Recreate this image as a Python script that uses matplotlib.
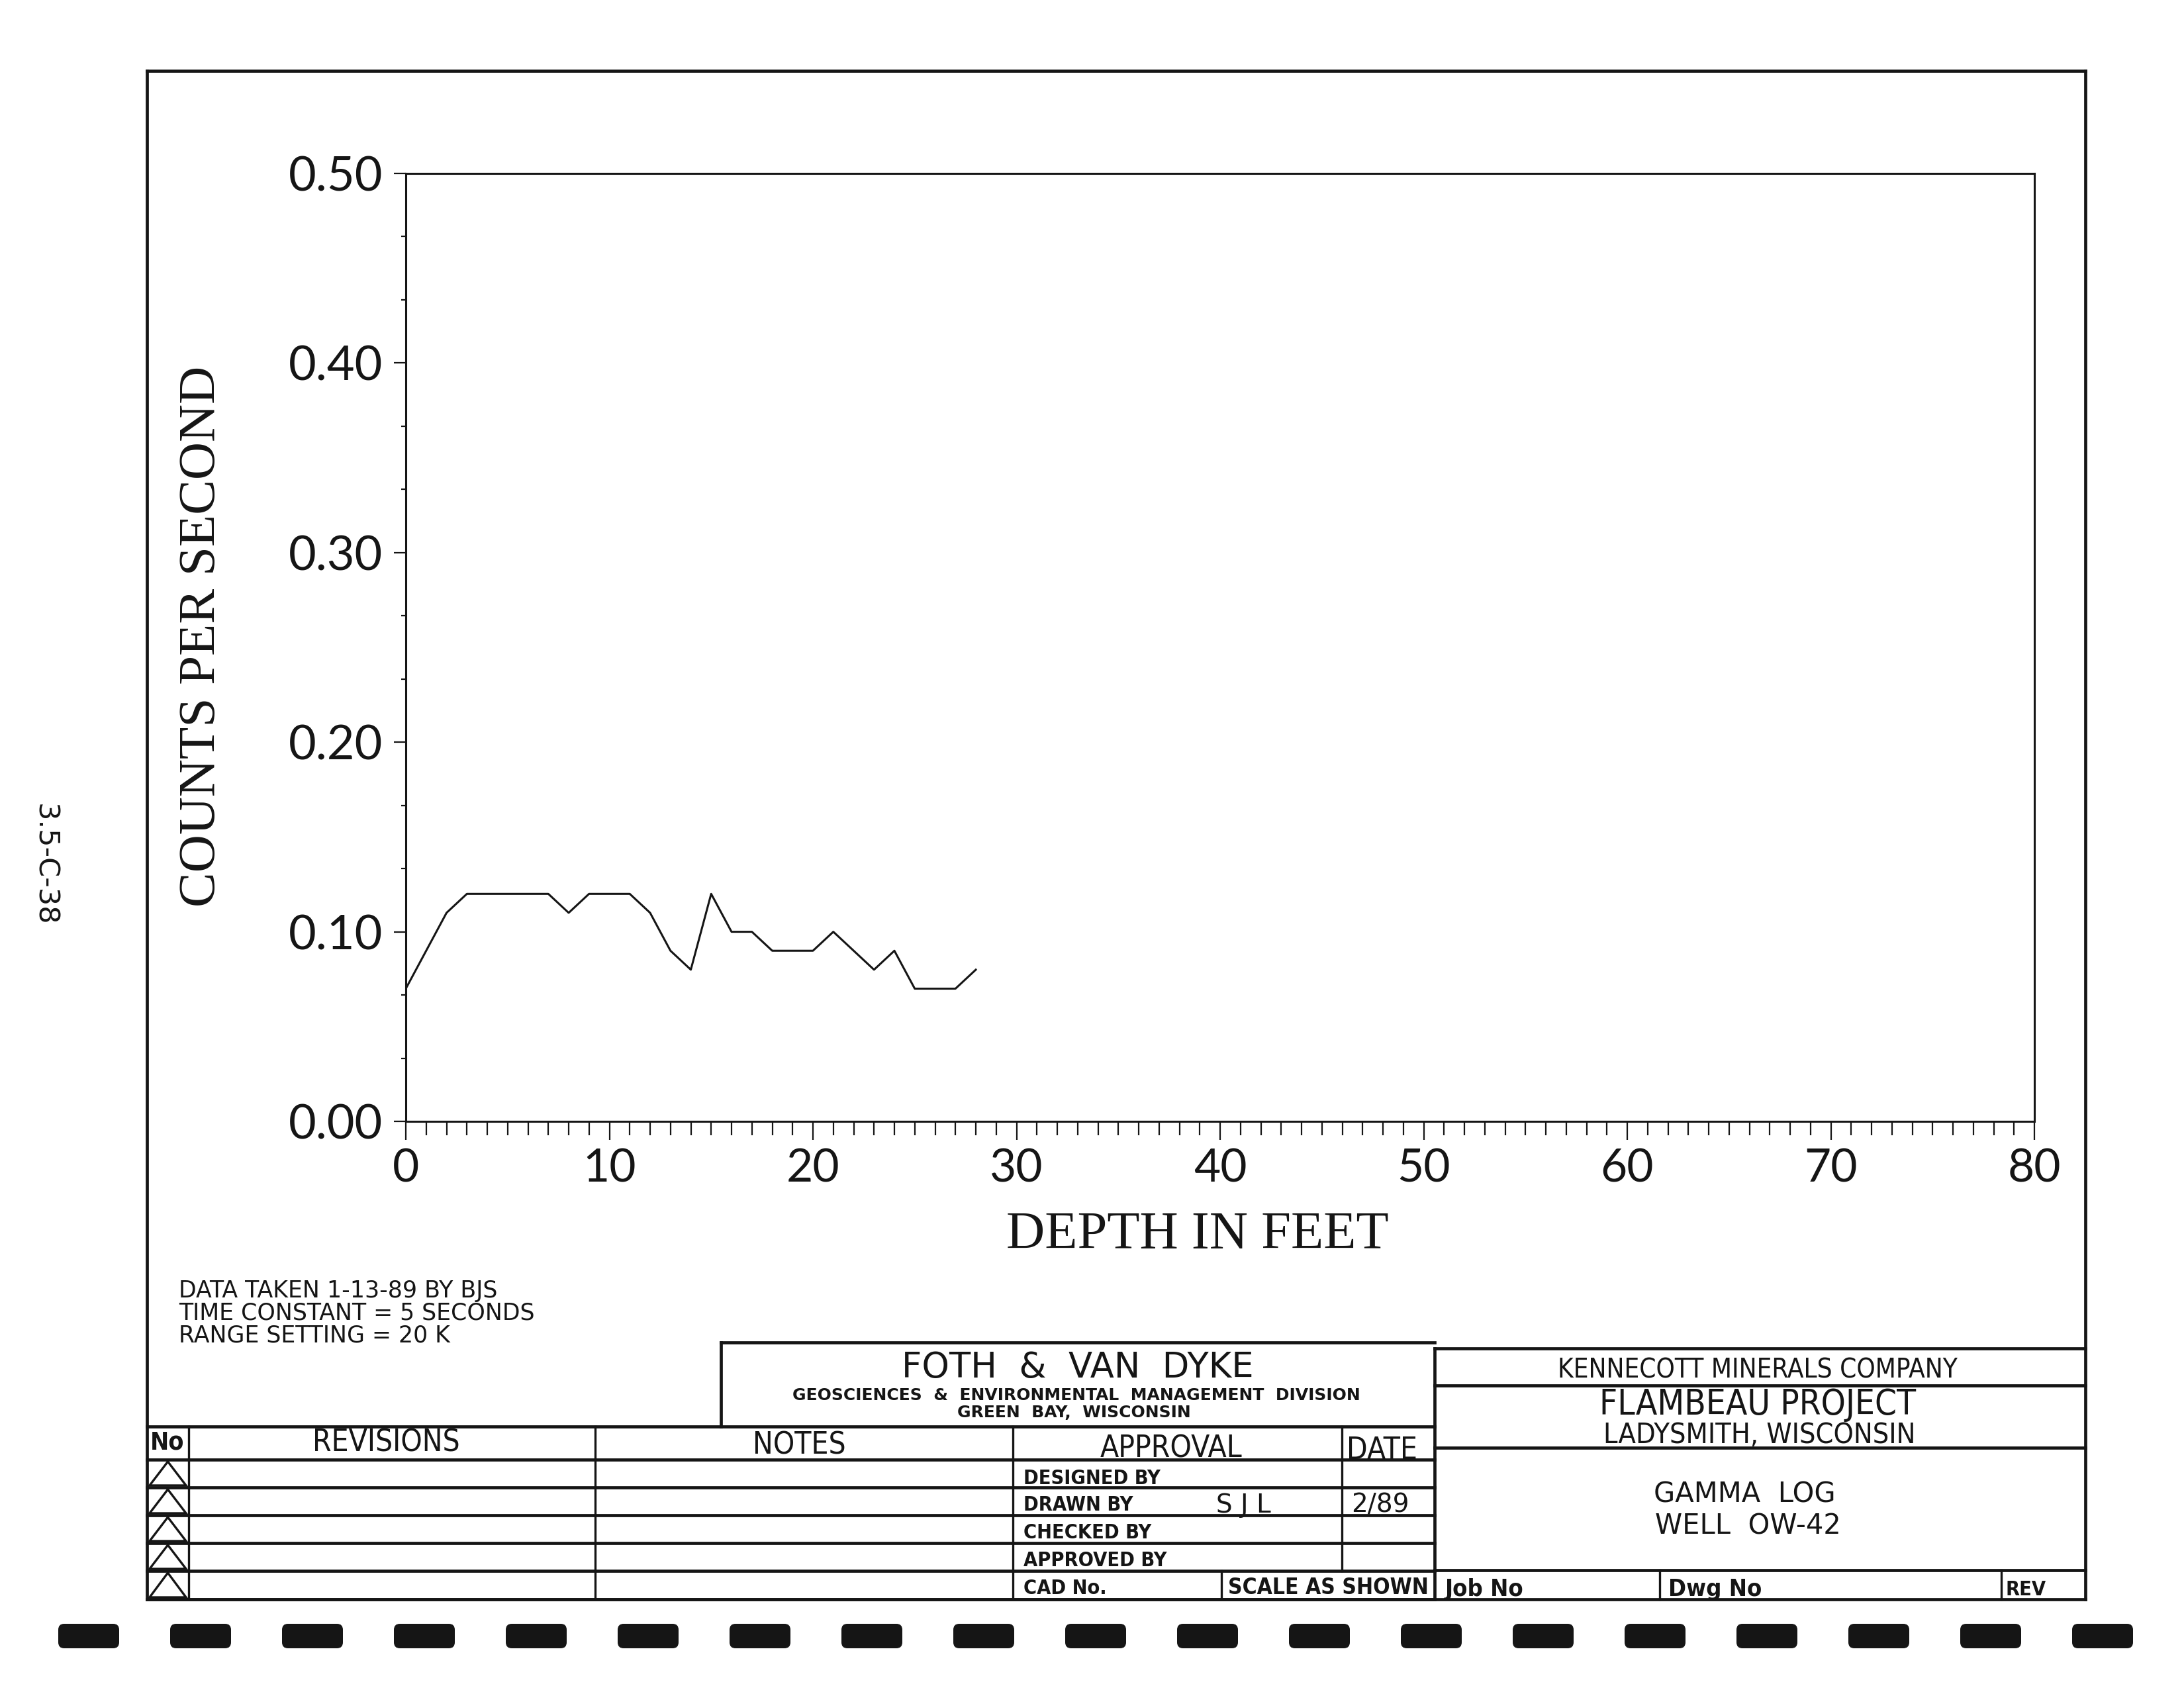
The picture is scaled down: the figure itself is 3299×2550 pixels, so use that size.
import numpy as np
import matplotlib.pyplot as plt
from matplotlib.patches import Polygon, FancyBboxPatch

# gamma log readings, well OW-42 (depth in feet, counts per second)
depth_ft = [0, 1, 2, 3, 4, 5, 6, 7, 8, 9, 10, 11, 12, 13, 14,
            15, 16, 17, 18, 19, 20, 21, 22, 23, 24, 25, 26, 27, 28]
counts = [0.07, 0.09, 0.11, 0.12, 0.12, 0.12, 0.12, 0.12, 0.11, 0.12,
          0.12, 0.12, 0.11, 0.09, 0.08, 0.12, 0.10, 0.10, 0.09, 0.09,
          0.09, 0.10, 0.09, 0.08, 0.09, 0.07, 0.07, 0.07, 0.08]

x_ticks = [0, 10, 20, 30, 40, 50, 60, 70, 80]
y_ticks = [0.0, 0.1, 0.2, 0.3, 0.4, 0.5]
y_tick_labels = ['0.00', '0.10', '0.20', '0.30', '0.40', '0.50']

notes = ['DATA TAKEN 1-13-89 BY BJS',
         'TIME CONSTANT = 5 SECONDS',
         'RANGE SETTING = 20 K']
approval_rows = ['DESIGNED BY', 'DRAWN BY', 'CHECKED BY', 'APPROVED BY', 'CAD No.']

ink = '#151515'
W, H = 3299, 2550

fig = plt.figure(figsize=(W / 100, H / 100), dpi=100)
fig.patch.set_facecolor('white')

# drawing sheet overlay in pixel coordinates
frame = fig.add_axes([0, 0, 1, 1])
frame.set_xlim(0, W)
frame.set_ylim(H, 0)
frame.axis('off')


def rule(x0, y0, x1, y1, lw=3.4):
    frame.plot([x0, x1], [y0, y1], color=ink, lw=lw, solid_capstyle='projecting')


def label(x, y, s, size, ha='center', weight='normal', stretch='normal', **kw):
    frame.text(x, y, s, fontsize=size, ha=ha, va='center', color=ink,
               family='DejaVu Sans', fontweight=weight, fontstretch=stretch, **kw)


# sheet border and title block geometry
L, R, TOP, BOT = 222, 3150, 107, 2416
MID = 2167
FOTH_L, FOTH_T = 1089, 2028
TAB_T = 2155
rows_y = [2205, 2247, 2289, 2331, 2373, BOT]
NO_R, REV_R, NOTES_R, APPR_R, SCALE_L = 285, 899, 1530, 2027, 1845
rb_rows = [2037, 2093, 2187, 2372]
JOB_R, DWG_R = 2507, 3023

rule(L, TOP, R, TOP)
rule(L, TOP, L, BOT)
rule(R, TOP, R, BOT)
rule(L, BOT, R, BOT)

rule(L, TAB_T, MID, TAB_T)
rule(FOTH_L, FOTH_T, MID, FOTH_T)
rule(FOTH_L, FOTH_T, FOTH_L, TAB_T)
for y in rows_y:
    rule(L, y, MID, y)
for x in [NO_R, REV_R, NOTES_R]:
    rule(x, TAB_T, x, BOT, lw=2.4)
rule(APPR_R, TAB_T, APPR_R, rows_y[-2], lw=2.4)
rule(SCALE_L, rows_y[-2], SCALE_L, BOT, lw=2.4)
rule(MID, rb_rows[0], MID, BOT)
for y in rb_rows:
    rule(MID, y, R, y)
for x in [JOB_R, DWG_R]:
    rule(x, rb_rows[-1], x, BOT, lw=2.4)

# revision triangles
for top, bot in zip(rows_y[:-1], rows_y[1:]):
    tri = Polygon([[(L + NO_R) / 2, top + 3], [L + 4, bot - 3], [NO_R - 4, bot - 3]],
                  closed=True, fill=False, ec=ink, lw=2.4)
    frame.add_patch(tri)

# header row
label(253, 2180, 'No', 27, weight='bold', stretch='condensed')
label(583, 2180, 'REVISIONS', 33, stretch='condensed')
label(1207, 2184, 'NOTES', 33, stretch='condensed')
label(1769, 2189, 'APPROVAL', 33, stretch='condensed')
label(2088, 2192, 'DATE', 33, stretch='condensed')

# approval rows
for y, s in zip([2234, 2274, 2316, 2357, 2399], approval_rows):
    label(1546, y, s, 22, ha='left', weight='bold', stretch='condensed')
label(1878, 2274, 'S J L', 28)
label(2085, 2274, '2/89', 28)
label(1855, 2399, 'SCALE AS SHOWN', 24, ha='left', weight='bold', stretch='condensed')

# firm block
label(1628, 2066, 'FOTH  &  VAN  DYKE', 38)
label(1626, 2108, 'GEOSCIENCES  &  ENVIRONMENTAL  MANAGEMENT  DIVISION', 18, weight='bold')
label(1622, 2134, 'GREEN  BAY,  WISCONSIN', 18, weight='bold')

# client block
label(2655, 2070, 'KENNECOTT MINERALS COMPANY', 29, stretch='condensed')
label(2655, 2122, 'FLAMBEAU PROJECT', 38, stretch='condensed')
label(2658, 2168, 'LADYSMITH, WISCONSIN', 31, stretch='condensed')
label(2635, 2258, 'GAMMA  LOG', 30)
label(2640, 2306, 'WELL  OW-42', 30)
label(2183, 2401, 'Job No', 26, ha='left', weight='bold', stretch='condensed')
label(2520, 2401, 'Dwg No', 26, ha='left', weight='bold', stretch='condensed')
label(3030, 2401, 'REV', 22, ha='left', weight='bold', stretch='condensed')

# data notes
for y, s in zip([1950, 1984, 2018], notes):
    label(270, y, s, 25, ha='left')

# margin id
label(67, 1306, '3.5-C-38', 31, rotation=270)

# registration dashes along the bottom
for i in range(19):
    frame.add_patch(FancyBboxPatch((88 + 169 * i, 2453), 92, 37,
                                   boxstyle='round,pad=0,rounding_size=9',
                                   fc=ink, ec='none'))

# the gamma log chart
ax_l, ax_r, ax_t, ax_b = 613, 3073, 262, 1694
ax = fig.add_axes([ax_l / W, 1 - ax_b / H, (ax_r - ax_l) / W, (ax_b - ax_t) / H])
ax.set_facecolor('none')
ax.plot(depth_ft, counts, color=ink, lw=2.2)
ax.set_xlim(0, 80)
ax.set_ylim(0, 0.5)

ax.set_xticks(x_ticks)
ax.set_xticks(np.arange(0, 81, 1), minor=True)
ax.set_yticks(y_ticks, y_tick_labels)
ax.set_yticks(np.arange(0, 0.5, 0.1 / 3), minor=True)

ax.tick_params(axis='x', which='major', length=20, width=1.6, pad=9,
               labelsize=50, colors=ink)
ax.tick_params(axis='x', which='minor', length=15, width=1.6, colors=ink)
ax.tick_params(axis='y', which='major', length=13, width=1.6, pad=12,
               labelsize=52, colors=ink)
ax.tick_params(axis='y', which='minor', length=5, width=1.6, colors=ink)
for t in ax.get_xticklabels() + ax.get_yticklabels():
    t.set_fontfamily('Lato')
    t.set_fontweight('normal')

for side in ['left', 'bottom', 'top', 'right']:
    ax.spines[side].set_linewidth(2.2)
    ax.spines[side].set_color(ink)

ax.set_xlabel('DEPTH IN FEET', fontsize=58, family='Liberation Serif',
              color=ink, va='center')
ax.xaxis.set_label_coords((1809 - ax_l) / (ax_r - ax_l), (ax_b - 1866) / (ax_b - ax_t))
ax.set_ylabel('COUNTS PER SECOND', fontsize=57, family='Liberation Serif',
              color=ink, va='center')
ax.yaxis.set_label_coords((305 - ax_l) / (ax_r - ax_l), (ax_b - 961) / (ax_b - ax_t))

fig.savefig('out.png', dpi=100, facecolor='white')
